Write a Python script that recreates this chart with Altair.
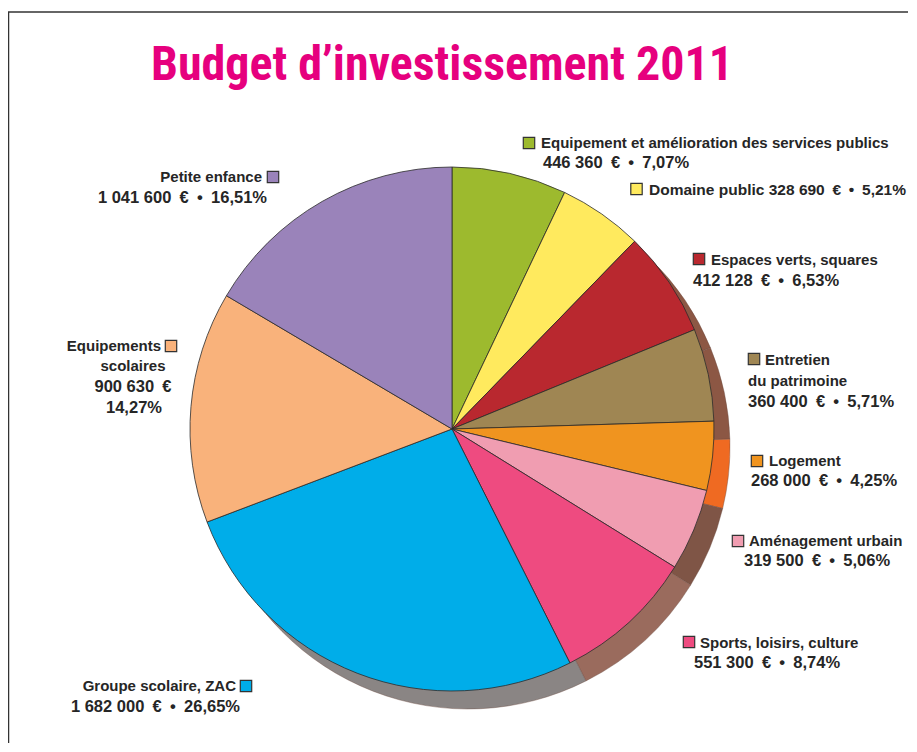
import altair as alt
import pandas as pd

# ---- data ----
categories = [
    "Equipement et amélioration des services publics",
    "Domaine public",
    "Espaces verts, squares",
    "Entretien du patrimoine",
    "Logement",
    "Aménagement urbain",
    "Sports, loisirs, culture",
    "Groupe scolaire, ZAC",
    "Equipements scolaires",
    "Petite enfance",
]
amounts = [446360, 328690, 412128, 360400, 268000, 319500, 551300, 1682000, 900630, 1041600]
percents = [7.07, 5.21, 6.53, 5.71, 4.25, 5.06, 8.74, 26.65, 14.27, 16.51]
colors = ["#9DBA2E", "#FFEA5E", "#B9282F", "#9F8653", "#F0941F",
          "#F09DB1", "#EE4B80", "#00ADE9", "#F9B27B", "#9A83BA"]
side_colors = ["#8C5744", "#8C5744", "#8C5744", "#8C5744", "#EF6A22",
               "#7F5546", "#9A6B5D", "#8A8584", "#8A8584", "#8A8584"]

SP = "\u2002"  # wider space around € and •

def eur(v):
    return f"{v:,}".replace(",", " ") + SP + "€"

def pct(p):
    return f"{p:.2f}".replace(".", ",") + "%"

def both(i):
    return eur(amounts[i]) + SP + "•" + SP + pct(percents[i])

df = pd.DataFrame({
    "cat": categories, "amount": amounts, "pct": percents,
    "idx": list(range(len(categories))), "color": colors, "side": side_colors,
})

# ---- layout (page pixels) ----
OFF = 8
CX, CY, R = 452, 429, 262
SDX, SDY = 16, 18
TXT, NUM, MIX = 15, 16.5, 15.5

lines = [
    (categories[0], 541, 143, "left", TXT), (both(0), 543, 163, "left", NUM),
    (categories[1] + " " + both(1), 649, 190, "left", MIX),
    (categories[2], 711, 260, "left", TXT), (both(2), 693, 281, "left", NUM),
    ("Entretien", 765, 360, "left", TXT), ("du patrimoine", 748, 381, "left", TXT),
    (both(3), 748, 402, "left", NUM),
    (categories[4], 769, 461, "left", TXT), (both(4), 751, 481, "left", NUM),
    (categories[5], 749, 541, "left", TXT), (both(5), 744, 561, "left", NUM),
    (categories[6], 700, 643, "left", TXT), (both(6), 694, 663, "left", NUM),
    (categories[7], 236, 686, "right", TXT), (both(7), 240, 707, "right", NUM),
    ("Equipements", 161, 346, "right", TXT), ("scolaires", 133, 366, "center", TXT),
    (eur(amounts[8]), 133, 387, "center", NUM), (pct(percents[8]), 134, 408, "center", NUM),
    (categories[9], 262, 177, "right", TXT), (both(9), 267, 198, "right", NUM),
]
squares = [(529, 143), (636.5, 189), (699, 259), (754, 359), (757, 461),
           (738, 541), (689, 642), (246, 686), (171, 346), (273, 177)]

lab = pd.DataFrame([{"t": t, "x": x - OFF, "y": y - OFF, "a": a, "fs": fs}
                    for t, x, y, a, fs in lines])
sq = pd.DataFrame({"x": [s[0] - OFF for s in squares], "y": [s[1] - OFF for s in squares],
                   "color": colors})

W, H = 900, 735
FONT = "Liberation Sans"

base = alt.Chart(df)
shadow = base.mark_arc(stroke="#6b4a3e", strokeWidth=0.4).encode(
    theta=alt.Theta("amount:Q", stack=True),
    order=alt.Order("idx:Q"),
    color=alt.Color("side:N", scale=None),
    x=alt.value(CX - OFF + SDX), y=alt.value(CY - OFF + SDY), radius=alt.value(R),
)
pie = base.mark_arc(stroke="#2b2b2b", strokeWidth=0.8).encode(
    theta=alt.Theta("amount:Q", stack=True),
    order=alt.Order("idx:Q"),
    color=alt.Color("color:N", scale=None),
    x=alt.value(CX - OFF), y=alt.value(CY - OFF), radius=alt.value(R),
)

layers = [shadow, pie]
for a in ["left", "right", "center"]:
    layers.append(
        alt.Chart(lab[lab.a == a]).mark_text(
            align=a, baseline="middle", font=FONT, fontWeight="bold", color="#262626"
        ).encode(x=alt.X("x:Q", scale=None), y=alt.Y("y:Q", scale=None), text="t:N",
                 size=alt.Size("fs:Q", scale=None))
    )
layers.append(
    alt.Chart(sq).mark_square(size=130, opacity=1, stroke="#333333", strokeWidth=1.2).encode(
        x=alt.X("x:Q", scale=None), y=alt.Y("y:Q", scale=None),
        fill=alt.Fill("color:N", scale=None),
    )
)
frame = pd.DataFrame({"x": [0, 0.5], "x2": [W, 0.5], "y": [4, 4], "y2": [4, H]})
layers.append(
    alt.Chart(frame).mark_rule(color="#333333", strokeWidth=1.5).encode(
        x=alt.X("x:Q", scale=None), x2="x2:Q", y=alt.Y("y:Q", scale=None), y2="y2:Q"
    )
)
title = pd.DataFrame({"t": ["Budget d’investissement 2011"], "x": [442 - OFF], "y": [80 - OFF]})
layers.append(
    alt.Chart(title).mark_text(
        align="center", baseline="alphabetic",
        font="'Roboto Condensed', 'DejaVu Sans Condensed', Roboto, sans-serif", fontSize=48,
        fontWeight="bold", color="#E6007E"
    ).encode(x=alt.X("x:Q", scale=None), y=alt.Y("y:Q", scale=None), text="t:N")
)

chart = alt.layer(*layers).properties(
    width=W, height=H, padding=0, autosize=alt.AutoSizeParams(type="none")
).configure_view(stroke=None)

chart.save("out.html", embed_options={"renderer": "svg", "actions": False})
